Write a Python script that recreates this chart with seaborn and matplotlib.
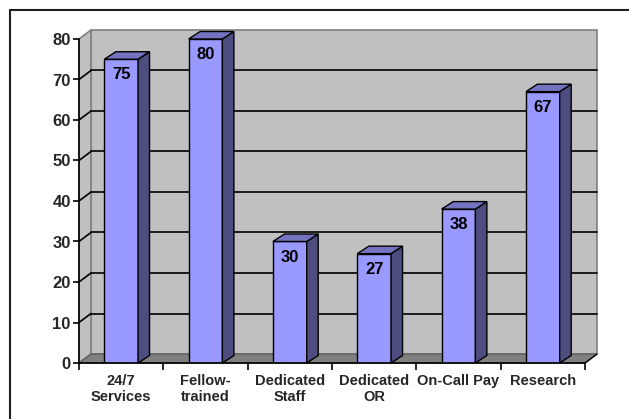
import matplotlib
matplotlib.use("Agg")
import matplotlib.pyplot as plt
import seaborn as sns
import pandas as pd
from matplotlib.patches import Polygon, Rectangle
from matplotlib.lines import Line2D

categories = ["24/7\nServices", "Fellow-\ntrained", "Dedicated\nStaff", "Dedicated\nOR", "On-Call Pay", "Research"]
values = [75, 80, 30, 27, 38, 67]
yticks = [0, 10, 20, 30, 40, 50, 60, 70, 80]

sns.set_style("white")
plt.rcParams['font.family'] = ['Liberation Sans', 'DejaVu Sans']
plt.rcParams['font.weight'] = 'bold'

W, H = 629, 419
fig = plt.figure(figsize=(W / 100, H / 100), dpi=100)
ax = fig.add_axes([79 / W, 56 / H, 506 / W, 324 / H])
ax.set_facecolor('none')

df = pd.DataFrame({"cat": categories, "val": values})
sns.barplot(data=df, x="cat", y="val", color="#9999FF", saturation=1, width=0.4,
            edgecolor="black", linewidth=1.0, ax=ax, zorder=3)

n = len(categories)
ax.set_xlim(-0.5, n - 0.5)
ax.set_ylim(0, 80)

pxx = 506 / n      # px per category
pxy = 324 / 80     # px per unit
wdx, wdy = 12 / pxx, 9 / pxy      # wall depth
bdx, bdy = 11.5 / pxx, 7.5 / pxy  # bar depth

x0, x1 = -0.5, n - 0.5
wall_c = "#C0C0C0"
edge_c = "#808080"
# back wall
ax.add_patch(Polygon([(x0 + wdx, wdy), (x1 + wdx, wdy), (x1 + wdx, 80 + wdy), (x0 + wdx, 80 + wdy)],
                     closed=True, facecolor=wall_c, edgecolor=edge_c, lw=1.2, zorder=0.2, clip_on=False))
# left wall
ax.add_patch(Polygon([(x0, 0), (x0 + wdx, wdy), (x0 + wdx, 80 + wdy), (x0, 80)],
                     closed=True, facecolor=wall_c, edgecolor=edge_c, lw=1.2, zorder=0.2, clip_on=False))
# gridlines
for t in yticks[1:-1]:
    ax.add_line(Line2D([x0 + wdx, x1 + wdx], [t + wdy, t + wdy], color="black", lw=1.2, zorder=0.4, clip_on=False))
    ax.add_line(Line2D([x0, x0 + wdx], [t, t + wdy], color="black", lw=1.2, zorder=0.4, clip_on=False))
# floor
ax.add_patch(Polygon([(x0, 0), (x1, 0), (x1 + wdx, wdy), (x0 + wdx, wdy)],
                     closed=True, facecolor="#808080", edgecolor="#606060", lw=1.0, zorder=0.5, clip_on=False))
ax.add_line(Line2D([x1, x1 + wdx], [0, wdy], color="black", lw=1.0, zorder=0.6, clip_on=False))

# 3D faces of bars
bars = [pp for pp in ax.patches if isinstance(pp, Rectangle)]
for p, v in zip(bars, values):
    bx0 = p.get_x()
    bx1 = bx0 + p.get_width()
    h = p.get_height()
    ax.add_patch(Polygon([(bx1, 0), (bx1 + bdx, bdy), (bx1 + bdx, h + bdy), (bx1, h)],
                         closed=True, facecolor="#4D4D80", edgecolor="black", lw=1.0, zorder=3, clip_on=False))
    ax.add_patch(Polygon([(bx0, h), (bx1, h), (bx1 + bdx, h + bdy), (bx0 + bdx, h + bdy)],
                         closed=True, facecolor="#7373BF", edgecolor="black", lw=1.0, zorder=3, clip_on=False))
    ax.text(bx0 + p.get_width() / 2, h - 15.5 / pxy, f"{v:g}", ha="center", va="center",
            fontsize=12, fontweight="bold", color="black", zorder=4)

# axes styling
for s in ["top", "right"]:
    ax.spines[s].set_visible(False)
for s in ["left", "bottom"]:
    ax.spines[s].set_color("black")
    ax.spines[s].set_linewidth(1.2)
    ax.spines[s].set_zorder(5)
ax.set_yticks(yticks)
ax.set_yticklabels([str(t) for t in yticks], fontsize=12, fontweight="bold")
ax.tick_params(axis="y", which="major", length=4, width=1.2, color="black", pad=2, left=True)
ax.set_xticks(range(n))
ax.set_xticklabels(categories, fontsize=10.5, fontweight="bold", linespacing=1.2,
                   multialignment="center")
ax.tick_params(axis="x", which="major", length=0, pad=8)
ax.set_xticks([i - 0.5 for i in range(n + 1)], minor=True)
ax.tick_params(axis="x", which="minor", length=5, width=1.2, color="black", bottom=True)
ax.set_xlabel("")
ax.set_ylabel("")

# outer border
fig.patches.append(Rectangle((10 / W, -0.05), 1.1, 1 - 10 / H + 0.05, transform=fig.transFigure,
                             fill=False, edgecolor="#202020", lw=1.5, zorder=0))

fig.savefig("out.png", dpi=100)
